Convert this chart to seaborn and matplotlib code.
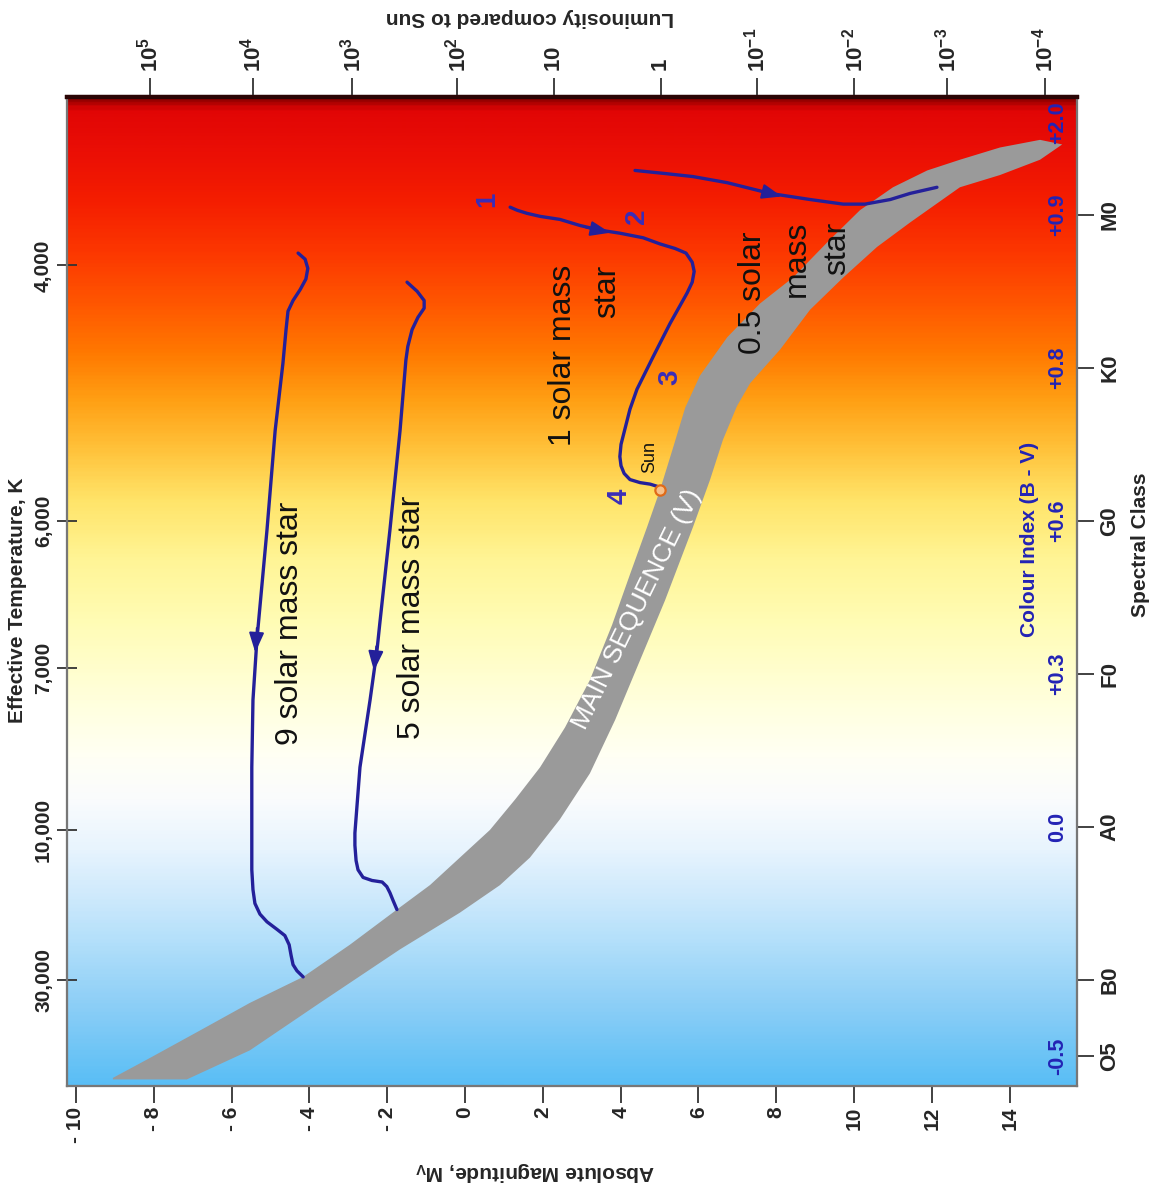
import numpy as np
import matplotlib
matplotlib.use("Agg")
import matplotlib.pyplot as plt
import seaborn as sns
from matplotlib.colors import LinearSegmentedColormap

sns.set_theme(style="white")
plt.rcParams["font.family"] = ["Liberation Sans", "DejaVu Sans"]
plt.rcParams["mathtext.fontset"] = "custom"
plt.rcParams["mathtext.rm"] = "Liberation Sans"
plt.rcParams["mathtext.bf"] = "Liberation Sans:bold"
plt.rcParams["mathtext.it"] = "Liberation Sans:italic"

# ---------------- data ----------------
# x: absolute magnitude M_V ; y: spectral-class coordinate (O5=0.5, B0=1, A0=2 ... M0=6)
mag_ticks = [-10, -8, -6, -4, -2, 0, 2, 4, 6, 8, 10, 12, 14]
mag_labels = ["- 10", "- 8", "- 6", "- 4", "- 2", "0", "2", "4", "6", "8", "10", "12", "14"]

lum_mag = [-8.1, -5.45, -2.9, -0.2, 2.3, 5.05, 7.5, 10.0, 12.4, 14.9]
lum_labels = [r"$\mathbf{10^{5}}$", r"$\mathbf{10^{4}}$", r"$\mathbf{10^{3}}$", r"$\mathbf{10^{2}}$",
              r"$\mathbf{10}$", r"$\mathbf{1}$", r"$\mathbf{10^{-1}}$", r"$\mathbf{10^{-2}}$",
              r"$\mathbf{10^{-3}}$", r"$\mathbf{10^{-4}}$"]

temp_pos = [1.0, 1.98, 3.04, 4.0, 5.67]
temp_labels = ["30,000", "10,000", "7,000", "6,000", "4,000"]

spec_pos = [0.5, 1, 2, 3, 4, 5, 6]
spec_labels = ["O5", "B0", "A0", "F0", "G0", "K0", "M0"]

bv_pos = [0.5, 2, 3, 4, 5, 6, 6.6]
bv_labels = ["-0.5", "0.0", "+0.3", "+0.6", "+0.8", "+0.9", "+2.0"]

# main sequence band edges
ms_upper_mag = [-9.05, -8.10, -6.81, -5.53, -4.16, -2.96, -1.75, -0.90, -0.13, 0.64, 1.29, 1.93,
                2.57, 3.21, 3.78, 4.24, 4.68, 5.01, 5.35, 5.66, 6.04, 6.74, 7.58, 8.43, 9.31,
                10.15, 11.00, 11.88, 12.72, 13.75, 14.78, 15.35]
ms_upper_spec = [0.36, 0.49, 0.67, 0.85, 1.02, 1.23, 1.46, 1.62, 1.80, 1.98, 2.18, 2.39,
                 2.65, 2.96, 3.32, 3.65, 3.96, 4.20, 4.48, 4.74, 4.95, 5.20, 5.42, 5.59, 5.82,
                 6.03, 6.18, 6.29, 6.36, 6.44, 6.49, 6.46]
ms_lower_mag = [-9.05, -7.15, -5.53, -3.73, -1.67, -0.13, 0.90, 1.67, 2.44, 3.21, 3.86, 4.50,
                5.14, 5.86, 6.30, 6.63, 6.99, 7.33, 8.10, 8.87, 9.72, 10.59, 11.44, 12.72,
                13.75, 14.78, 15.35]
ms_lower_spec = [0.35, 0.35, 0.54, 0.85, 1.20, 1.44, 1.62, 1.80, 2.05, 2.35, 2.70, 3.09,
                 3.48, 3.96, 4.27, 4.53, 4.75, 4.90, 5.12, 5.38, 5.59, 5.79, 5.95, 6.18,
                 6.26, 6.36, 6.46]

# evolutionary tracks
track9_mag = [-4.16, -4.32, -4.42, -4.47, -4.52, -4.63, -4.83, -5.09, -5.27, -5.40, -5.45, -5.48,
              -5.48, -5.48, -5.45, -5.35, -5.09, -4.88, -4.68, -4.60, -4.55, -4.42, -4.24, -4.09,
              -4.04, -4.11, -4.29]
track9_spec = [1.02, 1.06, 1.10, 1.16, 1.23, 1.29, 1.33, 1.38, 1.43, 1.50, 1.59, 1.72,
               1.96, 2.39, 2.83, 3.22, 3.94, 4.59, 5.03, 5.25, 5.37, 5.44, 5.51, 5.58,
               5.65, 5.71, 5.75]

track5_mag = [-1.75, -1.85, -1.93, -2.01, -2.13, -2.39, -2.62, -2.75, -2.80, -2.83, -2.83, -2.70,
              -2.44, -2.26, -2.19, -1.93, -1.67, -1.52, -1.47, -1.36, -1.21, -1.05, -1.05,
              -1.23, -1.49]
track5_spec = [1.46, 1.52, 1.57, 1.61, 1.64, 1.65, 1.67, 1.72, 1.78, 1.88, 1.96, 2.39,
               2.83, 3.16, 3.33, 3.94, 4.59, 5.05, 5.14, 5.25, 5.33, 5.39, 5.44,
               5.50, 5.56]

track1_mag = [5.01, 4.76, 4.50, 4.24, 4.09, 4.01, 3.98, 4.01, 4.09, 4.24, 4.42, 4.83, 5.27, 5.71,
              5.84, 5.89, 5.84, 5.68, 5.40, 5.01, 4.58, 3.98, 3.47, 2.96, 2.44, 1.93, 1.59,
              1.34, 1.16]
track1_spec = [4.22, 4.24, 4.25, 4.27, 4.31, 4.36, 4.42, 4.50, 4.58, 4.73, 4.86, 5.07, 5.29, 5.49,
               5.56, 5.63, 5.69, 5.75, 5.78, 5.81, 5.85, 5.88, 5.90, 5.93, 5.97, 5.99, 6.01,
               6.03, 6.05]

track05_mag = [4.37, 5.14, 5.86, 6.74, 7.84, 8.87, 9.72, 10.28, 10.93, 11.44, 12.13]
track05_spec = [6.29, 6.27, 6.25, 6.21, 6.14, 6.10, 6.07, 6.07, 6.10, 6.14, 6.18]

# arrows on tracks: position and direction
arrow_mag = [-5.37, -2.31, 3.42, 7.84]
arrow_spec = [3.22, 3.10, 5.90, 6.14]
arrow_dmag = [-0.02, -0.03, 0.31, 0.30]
arrow_dspec = [-0.08, -0.08, -0.017, -0.02]

sun_mag = [5.01]
sun_spec = [4.20]

# labels
star_labels = ["9 solar mass star", "5 solar mass star", "1 solar mass", "star",
               "0.5 solar", "mass", "star"]
star_label_mag = [-4.50, -1.36, 2.52, 3.65, 7.40, 8.53, 9.56]
star_label_spec = [3.33, 3.37, 5.08, 5.50, 5.49, 5.71, 5.78]

stage_labels = ["1", "2", "3", "4"]
stage_mag = [0.57, 4.42, 5.27, 3.98]
stage_spec = [6.10, 5.99, 4.94, 4.16]

# ---------------- figure ----------------
W, H = 1157, 1193
fig = plt.figure(figsize=(W / 100, H / 100), dpi=100)
fig.patch.set_facecolor("white")
L, R, T, B = 67, 1077, 97, 1086
ax = fig.add_axes([L / W, 1 - B / H, (R - L) / W, (B - T) / H])
xlim = (-10.23, 15.73)
ylim = (0.307, 6.77)

# background gradient (bottom -> top)
stops = [
    (0.000, (90, 190, 245)), (0.087, (145, 208, 247)), (0.138, (175, 222, 250)),
    (0.188, (205, 233, 252)), (0.239, (232, 244, 254)), (0.289, (250, 252, 253)),
    (0.330, (255, 255, 245)), (0.390, (255, 255, 220)), (0.471, (255, 252, 180)),
    (0.532, (255, 245, 150)), (0.593, (255, 228, 105)), (0.643, (255, 195, 60)),
    (0.694, (255, 160, 20)), (0.744, (255, 120, 0)), (0.795, (255, 85, 0)),
    (0.845, (252, 55, 0)), (0.896, (245, 30, 0)), (0.946, (235, 15, 5)),
    (0.990, (225, 5, 5)), (1.000, (150, 0, 0)),
]
cmap = LinearSegmentedColormap.from_list("hr", [(p, tuple(c / 255 for c in col)) for p, col in stops])
grad = np.linspace(0, 1, 600).reshape(-1, 1)
ax.imshow(grad, extent=[xlim[0], xlim[1], ylim[0], ylim[1]], origin="lower",
          aspect="auto", cmap=cmap, zorder=0, interpolation="bilinear")

# main sequence band
ax.fill(np.r_[ms_upper_mag, ms_lower_mag[::-1]], np.r_[ms_upper_spec, ms_lower_spec[::-1]],
        color="#9a9a9a", lw=0, zorder=2)

track_color = "#24209a"
for xm, ys in [(track9_mag, track9_spec), (track5_mag, track5_spec),
               (track1_mag, track1_spec), (track05_mag, track05_spec)]:
    sns.lineplot(x=xm, y=ys, sort=False, estimator=None, color=track_color, lw=2.4,
                 ax=ax, zorder=4)

for m, s, dm, ds in zip(arrow_mag, arrow_spec, arrow_dmag, arrow_dspec):
    ax.annotate("", xy=(m + dm, s + ds), xytext=(m - dm, s - ds),
                arrowprops=dict(arrowstyle="-|>,head_length=1.0,head_width=0.38",
                                color=track_color, lw=1.5, shrinkA=0, shrinkB=0),
                zorder=5)

sns.scatterplot(x=sun_mag, y=sun_spec, s=55, color="#f6c08a", edgecolor="#e06a18",
                linewidth=1.6, ax=ax, zorder=6)

for txt, m, s in zip(star_labels, star_label_mag, star_label_spec):
    ax.text(m, s, txt, rotation=90, ha="center", va="center", fontsize=23,
            color="#111111", zorder=7)
for txt, m, s in zip(stage_labels, stage_mag, stage_spec):
    ax.text(m, s, txt, rotation=90, ha="center", va="center", fontsize=20,
            fontweight="bold", color="#3a2db8", zorder=7)
ax.text(4.76, 4.42, "Sun", rotation=90, ha="center", va="center", fontsize=13,
        color="#111111", zorder=7)
ax.text(4.42, 3.42, "MAIN SEQUENCE (V)", rotation=64, ha="center", va="center",
        rotation_mode="anchor", fontsize=19, color="white", zorder=7)

BV_COLOR = "#2323b5"
for txt, s in zip(bv_labels, bv_pos):
    ax.text(15.24, s, txt, rotation=90, ha="center", va="center", fontsize=15.5,
            fontweight="bold", color=BV_COLOR, zorder=7)
ax.text(14.52, 3.88, "Colour Index (B - V)", rotation=90, ha="center", va="center",
        fontsize=15, fontweight="bold", color=BV_COLOR, zorder=7)

ax.set_xlim(*xlim)
ax.set_ylim(*ylim)

# bottom: magnitude, left: temperature
ax.set_xticks(mag_ticks, mag_labels)
ax.set_yticks(temp_pos, temp_labels)
ax.tick_params(axis="x", direction="out", length=12, width=1.3, color="#333333",
               labelrotation=90, labelsize=15, pad=3)
ax.tick_params(axis="y", direction="inout", length=14, width=1.3, color="#333333",
               labelrotation=90, labelsize=15, pad=3)
for lab in ax.get_xticklabels():
    lab.set_fontweight("bold")
for lab in ax.get_yticklabels():
    lab.set_fontweight("bold")
    lab.set_va("center")

# right: spectral class
ax2 = ax.twinx()
ax2.set_ylim(*ylim)
ax2.set_yticks(spec_pos, spec_labels)
ax2.tick_params(axis="y", direction="out", length=12, width=1.3, color="#333333",
                labelrotation=90, labelsize=16, pad=4)
for lab in ax2.get_yticklabels():
    lab.set_fontweight("bold")
    lab.set_va("center")

# top: luminosity
ax3 = ax.twiny()
ax3.set_xlim(*xlim)
ax3.set_xticks(lum_mag, lum_labels)
ax3.tick_params(axis="x", direction="out", length=14, width=1.3, color="#333333",
                labelrotation=90, labelsize=16, pad=4)

for a in (ax, ax2, ax3):
    for side, sp in a.spines.items():
        sp.set_color("#777777")
        sp.set_linewidth(1.5)
    a.spines["top"].set_color("#2a0505")
    a.spines["top"].set_linewidth(3)
    a.grid(False)

# axis titles
fig.text(530 / W, 1 - 18 / H, "Luminosity compared to Sun", rotation=180, ha="center",
         va="center", fontsize=15, fontweight="bold")
fig.text(535 / W, 1 - 1172 / H, r"Absolute Magnitude, M$_\mathbf{V}$", rotation=180,
         ha="center", va="center", fontsize=15, fontweight="bold")
fig.text(18 / W, 1 - 600 / H, "Effective Temperature, K", rotation=90, ha="center",
         va="center", fontsize=15, fontweight="bold")
fig.text(1140 / W, 1 - 545 / H, "Spectral Class", rotation=90, ha="center",
         va="center", fontsize=15, fontweight="bold")

fig.savefig("out.png", dpi=100)
